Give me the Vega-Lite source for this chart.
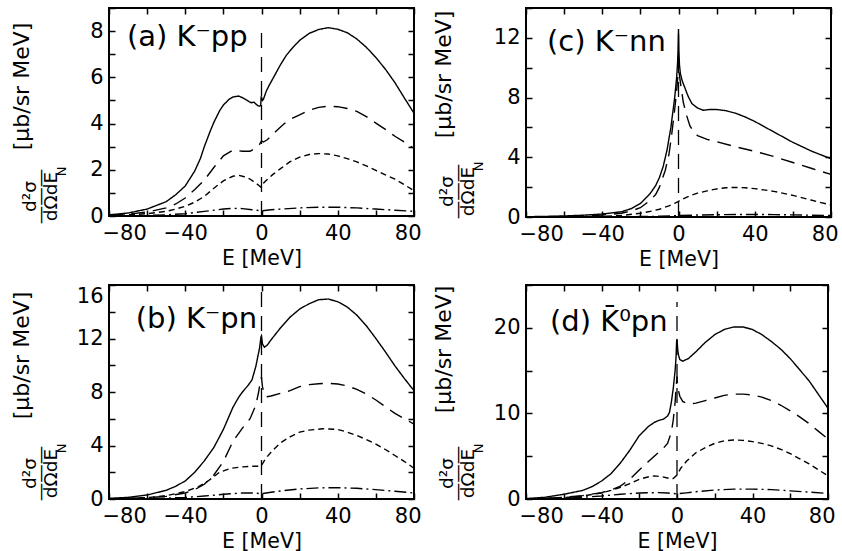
{
"$schema":"https://vega.github.io/schema/vega-lite/v6.json",
"background":"white",
"padding":{"left":9,"top":6,"right":3,"bottom":3},
"config":{"font":"DejaVu Sans","view":{"stroke":"black","strokeWidth":2},
"axis":{"grid":false,"domain":false,"ticks":true,"tickSize":-6,"tickColor":"black","tickWidth":1.5,"labelFont":"DejaVu Sans","labelFontSize":21,"labelColor":"black","titleFont":"DejaVu Sans","titleFontWeight":"normal","titleColor":"black"},
"text":{"font":"DejaVu Sans","color":"black"}},
"datasets":{
"a":[
{"E":-80,"v":0.05,"s":"solid"},{"E":-70,"v":0.13,"s":"solid"},{"E":-60,"v":0.3,"s":"solid"},{"E":-50,"v":0.62,"s":"solid"},{"E":-45,"v":0.92,"s":"solid"},{"E":-40,"v":1.3,"s":"solid"},{"E":-35,"v":1.95,"s":"solid"},{"E":-32,"v":2.5,"s":"solid"},{"E":-30,"v":3.0,"s":"solid"},{"E":-27,"v":3.65,"s":"solid"},{"E":-25,"v":4.05,"s":"solid"},{"E":-22,"v":4.55,"s":"solid"},{"E":-20,"v":4.8,"s":"solid"},{"E":-17,"v":5.05,"s":"solid"},{"E":-15,"v":5.15,"s":"solid"},{"E":-12,"v":5.19,"s":"solid"},{"E":-10,"v":5.12,"s":"solid"},{"E":-8,"v":5.03,"s":"solid"},{"E":-6,"v":4.92,"s":"solid"},{"E":-5,"v":4.9,"s":"solid"},{"E":-4,"v":4.93,"s":"solid"},{"E":-3,"v":4.85,"s":"solid"},{"E":-2,"v":4.78,"s":"solid"},{"E":-1,"v":4.75,"s":"solid"},{"E":-0.4,"v":4.8,"s":"solid"},{"E":-0.2,"v":5.15,"s":"solid"},{"E":0,"v":5.15,"s":"solid"},{"E":0.5,"v":5.0,"s":"solid"},{"E":1,"v":5.05,"s":"solid"},{"E":2.5,"v":5.4,"s":"solid"},{"E":4,"v":5.65,"s":"solid"},{"E":6,"v":5.95,"s":"solid"},{"E":8,"v":6.25,"s":"solid"},{"E":10,"v":6.55,"s":"solid"},{"E":13,"v":6.95,"s":"solid"},{"E":16,"v":7.25,"s":"solid"},{"E":20,"v":7.6,"s":"solid"},{"E":25,"v":7.9,"s":"solid"},{"E":30,"v":8.07,"s":"solid"},{"E":35,"v":8.15,"s":"solid"},{"E":40,"v":8.08,"s":"solid"},{"E":45,"v":7.93,"s":"solid"},{"E":50,"v":7.66,"s":"solid"},{"E":55,"v":7.3,"s":"solid"},{"E":60,"v":6.86,"s":"solid"},{"E":65,"v":6.35,"s":"solid"},{"E":70,"v":5.77,"s":"solid"},{"E":75,"v":5.1,"s":"solid"},{"E":80,"v":4.45,"s":"solid"},
{"E":-80,"v":0.03,"s":"long"},{"E":-70,"v":0.08,"s":"long"},{"E":-60,"v":0.17,"s":"long"},{"E":-50,"v":0.35,"s":"long"},{"E":-45,"v":0.52,"s":"long"},{"E":-40,"v":0.78,"s":"long"},{"E":-35,"v":1.15,"s":"long"},{"E":-30,"v":1.55,"s":"long"},{"E":-25,"v":2.1,"s":"long"},{"E":-20,"v":2.6,"s":"long"},{"E":-15,"v":2.85,"s":"long"},{"E":-10,"v":2.8,"s":"long"},{"E":-6,"v":2.8,"s":"long"},{"E":-3,"v":2.95,"s":"long"},{"E":-1,"v":3.1,"s":"long"},{"E":0,"v":3.25,"s":"long"},{"E":1,"v":3.2,"s":"long"},{"E":3,"v":3.3,"s":"long"},{"E":5,"v":3.45,"s":"long"},{"E":8,"v":3.7,"s":"long"},{"E":12,"v":4.0,"s":"long"},{"E":16,"v":4.22,"s":"long"},{"E":20,"v":4.38,"s":"long"},{"E":25,"v":4.58,"s":"long"},{"E":30,"v":4.7,"s":"long"},{"E":35,"v":4.75,"s":"long"},{"E":40,"v":4.73,"s":"long"},{"E":45,"v":4.65,"s":"long"},{"E":50,"v":4.53,"s":"long"},{"E":55,"v":4.3,"s":"long"},{"E":60,"v":4.02,"s":"long"},{"E":65,"v":3.75,"s":"long"},{"E":70,"v":3.45,"s":"long"},{"E":75,"v":3.2,"s":"long"},{"E":80,"v":2.92,"s":"long"},
{"E":-80,"v":0.02,"s":"short"},{"E":-70,"v":0.05,"s":"short"},{"E":-60,"v":0.1,"s":"short"},{"E":-50,"v":0.2,"s":"short"},{"E":-45,"v":0.3,"s":"short"},{"E":-40,"v":0.42,"s":"short"},{"E":-35,"v":0.6,"s":"short"},{"E":-30,"v":0.85,"s":"short"},{"E":-25,"v":1.2,"s":"short"},{"E":-20,"v":1.52,"s":"short"},{"E":-15,"v":1.72,"s":"short"},{"E":-12,"v":1.76,"s":"short"},{"E":-9,"v":1.7,"s":"short"},{"E":-6,"v":1.6,"s":"short"},{"E":-3,"v":1.42,"s":"short"},{"E":-1,"v":1.3,"s":"short"},{"E":-0.3,"v":1.24,"s":"short"},{"E":0,"v":1.3,"s":"short"},{"E":1,"v":1.42,"s":"short"},{"E":3,"v":1.58,"s":"short"},{"E":6,"v":1.8,"s":"short"},{"E":10,"v":2.05,"s":"short"},{"E":15,"v":2.35,"s":"short"},{"E":20,"v":2.55,"s":"short"},{"E":25,"v":2.66,"s":"short"},{"E":30,"v":2.7,"s":"short"},{"E":35,"v":2.68,"s":"short"},{"E":40,"v":2.6,"s":"short"},{"E":45,"v":2.48,"s":"short"},{"E":50,"v":2.34,"s":"short"},{"E":55,"v":2.17,"s":"short"},{"E":60,"v":1.97,"s":"short"},{"E":65,"v":1.78,"s":"short"},{"E":70,"v":1.6,"s":"short"},{"E":75,"v":1.35,"s":"short"},{"E":80,"v":1.1,"s":"short"},
{"E":-80,"v":0,"s":"dd"},{"E":-70,"v":0.01,"s":"dd"},{"E":-60,"v":0.02,"s":"dd"},{"E":-50,"v":0.05,"s":"dd"},{"E":-40,"v":0.1,"s":"dd"},{"E":-30,"v":0.2,"s":"dd"},{"E":-20,"v":0.3,"s":"dd"},{"E":-15,"v":0.33,"s":"dd"},{"E":-10,"v":0.32,"s":"dd"},{"E":-5,"v":0.27,"s":"dd"},{"E":0,"v":0.22,"s":"dd"},{"E":5,"v":0.27,"s":"dd"},{"E":10,"v":0.3,"s":"dd"},{"E":20,"v":0.35,"s":"dd"},{"E":30,"v":0.38,"s":"dd"},{"E":40,"v":0.38,"s":"dd"},{"E":50,"v":0.35,"s":"dd"},{"E":60,"v":0.3,"s":"dd"},{"E":70,"v":0.25,"s":"dd"},{"E":80,"v":0.2,"s":"dd"}
],
"c":[
{"E":-80,"v":0.02,"s":"solid"},{"E":-70,"v":0.04,"s":"solid"},{"E":-60,"v":0.07,"s":"solid"},{"E":-50,"v":0.12,"s":"solid"},{"E":-40,"v":0.2,"s":"solid"},{"E":-30,"v":0.35,"s":"solid"},{"E":-25,"v":0.55,"s":"solid"},{"E":-20,"v":0.9,"s":"solid"},{"E":-15,"v":1.55,"s":"solid"},{"E":-12,"v":2.1,"s":"solid"},{"E":-10,"v":2.65,"s":"solid"},{"E":-8,"v":3.4,"s":"solid"},{"E":-6,"v":4.5,"s":"solid"},{"E":-4,"v":6.0,"s":"solid"},{"E":-3,"v":7.0,"s":"solid"},{"E":-2,"v":8.0,"s":"solid"},{"E":-1,"v":9.3,"s":"solid"},{"E":-0.5,"v":10.3,"s":"solid"},{"E":-0.15,"v":11.5,"s":"solid"},{"E":0,"v":12.6,"s":"solid"},{"E":0.15,"v":11.4,"s":"solid"},{"E":0.5,"v":10.2,"s":"solid"},{"E":1,"v":9.6,"s":"solid"},{"E":2,"v":9.1,"s":"solid"},{"E":3.5,"v":8.6,"s":"solid"},{"E":5,"v":8.1,"s":"solid"},{"E":7,"v":7.6,"s":"solid"},{"E":10,"v":7.3,"s":"solid"},{"E":13,"v":7.15,"s":"solid"},{"E":16,"v":7.2,"s":"solid"},{"E":20,"v":7.2,"s":"solid"},{"E":25,"v":7.12,"s":"solid"},{"E":30,"v":6.95,"s":"solid"},{"E":35,"v":6.7,"s":"solid"},{"E":40,"v":6.4,"s":"solid"},{"E":50,"v":5.7,"s":"solid"},{"E":60,"v":5.0,"s":"solid"},{"E":70,"v":4.4,"s":"solid"},{"E":80,"v":3.9,"s":"solid"},
{"E":-80,"v":0.01,"s":"long"},{"E":-70,"v":0.02,"s":"long"},{"E":-60,"v":0.04,"s":"long"},{"E":-50,"v":0.07,"s":"long"},{"E":-40,"v":0.13,"s":"long"},{"E":-30,"v":0.25,"s":"long"},{"E":-25,"v":0.4,"s":"long"},{"E":-20,"v":0.62,"s":"long"},{"E":-15,"v":1.1,"s":"long"},{"E":-12,"v":1.5,"s":"long"},{"E":-10,"v":2.0,"s":"long"},{"E":-7,"v":3.1,"s":"long"},{"E":-5,"v":4.2,"s":"long"},{"E":-3.5,"v":5.6,"s":"long"},{"E":-2,"v":7.2,"s":"long"},{"E":-1,"v":8.4,"s":"long"},{"E":-0.3,"v":9.5,"s":"long"},{"E":0.2,"v":9.8,"s":"long"},{"E":1,"v":9.0,"s":"long"},{"E":2.5,"v":7.7,"s":"long"},{"E":4,"v":6.9,"s":"long"},{"E":6,"v":6.1,"s":"long"},{"E":8,"v":5.7,"s":"long"},{"E":10,"v":5.45,"s":"long"},{"E":15,"v":5.2,"s":"long"},{"E":20,"v":5.05,"s":"long"},{"E":30,"v":4.7,"s":"long"},{"E":40,"v":4.4,"s":"long"},{"E":50,"v":4.05,"s":"long"},{"E":60,"v":3.65,"s":"long"},{"E":70,"v":3.25,"s":"long"},{"E":80,"v":2.85,"s":"long"},
{"E":-80,"v":0.0,"s":"short"},{"E":-60,"v":0.01,"s":"short"},{"E":-40,"v":0.05,"s":"short"},{"E":-30,"v":0.1,"s":"short"},{"E":-20,"v":0.25,"s":"short"},{"E":-14,"v":0.4,"s":"short"},{"E":-10,"v":0.52,"s":"short"},{"E":-5,"v":0.75,"s":"short"},{"E":-2,"v":0.92,"s":"short"},{"E":0,"v":1.05,"s":"short"},{"E":3,"v":1.25,"s":"short"},{"E":6,"v":1.42,"s":"short"},{"E":10,"v":1.6,"s":"short"},{"E":15,"v":1.75,"s":"short"},{"E":20,"v":1.88,"s":"short"},{"E":25,"v":1.96,"s":"short"},{"E":30,"v":1.98,"s":"short"},{"E":35,"v":1.96,"s":"short"},{"E":40,"v":1.9,"s":"short"},{"E":50,"v":1.72,"s":"short"},{"E":60,"v":1.45,"s":"short"},{"E":70,"v":1.12,"s":"short"},{"E":80,"v":0.8,"s":"short"},
{"E":-80,"v":0,"s":"dd"},{"E":-60,"v":0.005,"s":"dd"},{"E":-40,"v":0.01,"s":"dd"},{"E":-20,"v":0.03,"s":"dd"},{"E":-10,"v":0.05,"s":"dd"},{"E":0,"v":0.1,"s":"dd"},{"E":10,"v":0.13,"s":"dd"},{"E":20,"v":0.15,"s":"dd"},{"E":30,"v":0.17,"s":"dd"},{"E":40,"v":0.17,"s":"dd"},{"E":50,"v":0.16,"s":"dd"},{"E":60,"v":0.14,"s":"dd"},{"E":70,"v":0.12,"s":"dd"},{"E":80,"v":0.1,"s":"dd"}
],
"b":[
{"E":-80,"v":0.05,"s":"solid"},{"E":-70,"v":0.12,"s":"solid"},{"E":-60,"v":0.3,"s":"solid"},{"E":-50,"v":0.65,"s":"solid"},{"E":-45,"v":0.95,"s":"solid"},{"E":-40,"v":1.35,"s":"solid"},{"E":-35,"v":2.0,"s":"solid"},{"E":-30,"v":2.85,"s":"solid"},{"E":-25,"v":3.85,"s":"solid"},{"E":-20,"v":5.2,"s":"solid"},{"E":-15,"v":6.85,"s":"solid"},{"E":-12,"v":7.6,"s":"solid"},{"E":-10,"v":8.0,"s":"solid"},{"E":-7,"v":8.5,"s":"solid"},{"E":-5,"v":8.9,"s":"solid"},{"E":-3,"v":9.9,"s":"solid"},{"E":-2,"v":10.6,"s":"solid"},{"E":-1,"v":11.3,"s":"solid"},{"E":-0.3,"v":12.1,"s":"solid"},{"E":0,"v":12.2,"s":"solid"},{"E":0.5,"v":11.6,"s":"solid"},{"E":1.5,"v":11.35,"s":"solid"},{"E":3,"v":11.5,"s":"solid"},{"E":5,"v":11.9,"s":"solid"},{"E":10,"v":12.8,"s":"solid"},{"E":15,"v":13.6,"s":"solid"},{"E":20,"v":14.2,"s":"solid"},{"E":25,"v":14.6,"s":"solid"},{"E":30,"v":14.9,"s":"solid"},{"E":35,"v":14.95,"s":"solid"},{"E":40,"v":14.75,"s":"solid"},{"E":45,"v":14.35,"s":"solid"},{"E":50,"v":13.75,"s":"solid"},{"E":55,"v":12.95,"s":"solid"},{"E":60,"v":12.0,"s":"solid"},{"E":65,"v":11.0,"s":"solid"},{"E":70,"v":9.95,"s":"solid"},{"E":75,"v":9.0,"s":"solid"},{"E":80,"v":8.1,"s":"solid"},
{"E":-80,"v":0.02,"s":"long"},{"E":-70,"v":0.05,"s":"long"},{"E":-60,"v":0.1,"s":"long"},{"E":-50,"v":0.2,"s":"long"},{"E":-40,"v":0.45,"s":"long"},{"E":-35,"v":0.7,"s":"long"},{"E":-30,"v":1.1,"s":"long"},{"E":-25,"v":1.8,"s":"long"},{"E":-20,"v":2.8,"s":"long"},{"E":-15,"v":4.3,"s":"long"},{"E":-10,"v":5.3,"s":"long"},{"E":-6,"v":6.0,"s":"long"},{"E":-3,"v":7.0,"s":"long"},{"E":-1.5,"v":8.0,"s":"long"},{"E":-0.5,"v":8.9,"s":"long"},{"E":0,"v":9.1,"s":"long"},{"E":0.5,"v":8.4,"s":"long"},{"E":1.5,"v":7.8,"s":"long"},{"E":3,"v":7.65,"s":"long"},{"E":5,"v":7.7,"s":"long"},{"E":10,"v":7.9,"s":"long"},{"E":15,"v":8.1,"s":"long"},{"E":20,"v":8.4,"s":"long"},{"E":25,"v":8.55,"s":"long"},{"E":30,"v":8.62,"s":"long"},{"E":35,"v":8.65,"s":"long"},{"E":40,"v":8.6,"s":"long"},{"E":45,"v":8.45,"s":"long"},{"E":50,"v":8.2,"s":"long"},{"E":55,"v":7.85,"s":"long"},{"E":60,"v":7.4,"s":"long"},{"E":65,"v":6.9,"s":"long"},{"E":70,"v":6.4,"s":"long"},{"E":75,"v":6.0,"s":"long"},{"E":80,"v":5.6,"s":"long"},
{"E":-80,"v":0.02,"s":"short"},{"E":-70,"v":0.05,"s":"short"},{"E":-60,"v":0.1,"s":"short"},{"E":-50,"v":0.25,"s":"short"},{"E":-40,"v":0.55,"s":"short"},{"E":-33,"v":0.92,"s":"short"},{"E":-28,"v":1.35,"s":"short"},{"E":-22,"v":2.0,"s":"short"},{"E":-16,"v":2.3,"s":"short"},{"E":-10,"v":2.4,"s":"short"},{"E":-5,"v":2.45,"s":"short"},{"E":-1,"v":2.45,"s":"short"},{"E":0,"v":2.5,"s":"short"},{"E":2,"v":3.0,"s":"short"},{"E":5,"v":3.5,"s":"short"},{"E":10,"v":4.2,"s":"short"},{"E":15,"v":4.65,"s":"short"},{"E":20,"v":5.0,"s":"short"},{"E":25,"v":5.15,"s":"short"},{"E":32,"v":5.25,"s":"short"},{"E":40,"v":5.2,"s":"short"},{"E":45,"v":5.0,"s":"short"},{"E":50,"v":4.75,"s":"short"},{"E":55,"v":4.45,"s":"short"},{"E":60,"v":4.1,"s":"short"},{"E":65,"v":3.7,"s":"short"},{"E":70,"v":3.25,"s":"short"},{"E":75,"v":2.8,"s":"short"},{"E":80,"v":2.3,"s":"short"},
{"E":-80,"v":0,"s":"dd"},{"E":-70,"v":0.01,"s":"dd"},{"E":-60,"v":0.03,"s":"dd"},{"E":-50,"v":0.07,"s":"dd"},{"E":-40,"v":0.12,"s":"dd"},{"E":-30,"v":0.22,"s":"dd"},{"E":-20,"v":0.35,"s":"dd"},{"E":-10,"v":0.45,"s":"dd"},{"E":-5,"v":0.45,"s":"dd"},{"E":0,"v":0.4,"s":"dd"},{"E":5,"v":0.5,"s":"dd"},{"E":10,"v":0.6,"s":"dd"},{"E":20,"v":0.75,"s":"dd"},{"E":30,"v":0.83,"s":"dd"},{"E":40,"v":0.85,"s":"dd"},{"E":50,"v":0.8,"s":"dd"},{"E":60,"v":0.7,"s":"dd"},{"E":70,"v":0.58,"s":"dd"},{"E":80,"v":0.45,"s":"dd"}
],
"d":[
{"E":-80,"v":0.05,"s":"solid"},{"E":-70,"v":0.2,"s":"solid"},{"E":-60,"v":0.55,"s":"solid"},{"E":-50,"v":1.0,"s":"solid"},{"E":-45,"v":1.45,"s":"solid"},{"E":-40,"v":2.1,"s":"solid"},{"E":-35,"v":2.95,"s":"solid"},{"E":-30,"v":4.2,"s":"solid"},{"E":-25,"v":5.7,"s":"solid"},{"E":-20,"v":7.4,"s":"solid"},{"E":-15,"v":8.5,"s":"solid"},{"E":-12,"v":8.95,"s":"solid"},{"E":-10,"v":9.15,"s":"solid"},{"E":-7,"v":9.35,"s":"solid"},{"E":-5,"v":9.7,"s":"solid"},{"E":-4,"v":10.1,"s":"solid"},{"E":-3,"v":11.3,"s":"solid"},{"E":-2,"v":12.9,"s":"solid"},{"E":-1,"v":15.0,"s":"solid"},{"E":-0.5,"v":16.6,"s":"solid"},{"E":-0.2,"v":18.4,"s":"solid"},{"E":0,"v":18.7,"s":"solid"},{"E":0.4,"v":17.4,"s":"solid"},{"E":0.8,"v":16.8,"s":"solid"},{"E":1.5,"v":16.3,"s":"solid"},{"E":3,"v":16.1,"s":"solid"},{"E":6,"v":16.4,"s":"solid"},{"E":10,"v":17.2,"s":"solid"},{"E":15,"v":18.3,"s":"solid"},{"E":20,"v":19.2,"s":"solid"},{"E":25,"v":19.8,"s":"solid"},{"E":30,"v":20.1,"s":"solid"},{"E":35,"v":20.1,"s":"solid"},{"E":40,"v":19.8,"s":"solid"},{"E":45,"v":19.2,"s":"solid"},{"E":50,"v":18.4,"s":"solid"},{"E":55,"v":17.5,"s":"solid"},{"E":60,"v":16.4,"s":"solid"},{"E":65,"v":15.1,"s":"solid"},{"E":70,"v":13.8,"s":"solid"},{"E":75,"v":12.2,"s":"solid"},{"E":80,"v":10.6,"s":"solid"},
{"E":-80,"v":0.02,"s":"long"},{"E":-70,"v":0.08,"s":"long"},{"E":-60,"v":0.2,"s":"long"},{"E":-50,"v":0.4,"s":"long"},{"E":-40,"v":0.75,"s":"long"},{"E":-35,"v":1.05,"s":"long"},{"E":-30,"v":1.5,"s":"long"},{"E":-25,"v":2.3,"s":"long"},{"E":-20,"v":3.4,"s":"long"},{"E":-15,"v":4.4,"s":"long"},{"E":-10,"v":5.4,"s":"long"},{"E":-7,"v":6.0,"s":"long"},{"E":-5,"v":6.5,"s":"long"},{"E":-3,"v":7.8,"s":"long"},{"E":-2,"v":9.2,"s":"long"},{"E":-1,"v":11.3,"s":"long"},{"E":-0.3,"v":13.5,"s":"long"},{"E":0,"v":14.3,"s":"long"},{"E":0.4,"v":13.0,"s":"long"},{"E":1.5,"v":12.0,"s":"long"},{"E":3,"v":11.4,"s":"long"},{"E":6,"v":11.1,"s":"long"},{"E":10,"v":11.2,"s":"long"},{"E":15,"v":11.5,"s":"long"},{"E":20,"v":11.8,"s":"long"},{"E":25,"v":12.1,"s":"long"},{"E":30,"v":12.25,"s":"long"},{"E":35,"v":12.25,"s":"long"},{"E":40,"v":12.15,"s":"long"},{"E":45,"v":11.9,"s":"long"},{"E":50,"v":11.5,"s":"long"},{"E":55,"v":10.95,"s":"long"},{"E":60,"v":10.3,"s":"long"},{"E":65,"v":9.6,"s":"long"},{"E":70,"v":8.8,"s":"long"},{"E":75,"v":7.9,"s":"long"},{"E":80,"v":7.0,"s":"long"},
{"E":-80,"v":0.02,"s":"short"},{"E":-70,"v":0.07,"s":"short"},{"E":-60,"v":0.15,"s":"short"},{"E":-50,"v":0.35,"s":"short"},{"E":-40,"v":0.7,"s":"short"},{"E":-35,"v":1.0,"s":"short"},{"E":-30,"v":1.35,"s":"short"},{"E":-25,"v":1.8,"s":"short"},{"E":-20,"v":2.3,"s":"short"},{"E":-15,"v":2.6,"s":"short"},{"E":-12,"v":2.7,"s":"short"},{"E":-8,"v":2.6,"s":"short"},{"E":-4,"v":2.4,"s":"short"},{"E":-2,"v":2.4,"s":"short"},{"E":0,"v":2.8,"s":"short"},{"E":2,"v":3.6,"s":"short"},{"E":5,"v":4.4,"s":"short"},{"E":10,"v":5.4,"s":"short"},{"E":15,"v":6.0,"s":"short"},{"E":20,"v":6.5,"s":"short"},{"E":25,"v":6.8,"s":"short"},{"E":30,"v":6.9,"s":"short"},{"E":35,"v":6.85,"s":"short"},{"E":40,"v":6.7,"s":"short"},{"E":45,"v":6.5,"s":"short"},{"E":50,"v":6.2,"s":"short"},{"E":55,"v":5.8,"s":"short"},{"E":60,"v":5.3,"s":"short"},{"E":65,"v":4.7,"s":"short"},{"E":70,"v":4.1,"s":"short"},{"E":75,"v":3.4,"s":"short"},{"E":80,"v":2.7,"s":"short"},
{"E":-80,"v":0,"s":"dd"},{"E":-70,"v":0.04,"s":"dd"},{"E":-60,"v":0.1,"s":"dd"},{"E":-50,"v":0.2,"s":"dd"},{"E":-40,"v":0.35,"s":"dd"},{"E":-30,"v":0.55,"s":"dd"},{"E":-20,"v":0.7,"s":"dd"},{"E":-10,"v":0.75,"s":"dd"},{"E":-5,"v":0.7,"s":"dd"},{"E":0,"v":0.6,"s":"dd"},{"E":5,"v":0.72,"s":"dd"},{"E":10,"v":0.85,"s":"dd"},{"E":20,"v":1.05,"s":"dd"},{"E":30,"v":1.15,"s":"dd"},{"E":40,"v":1.15,"s":"dd"},{"E":50,"v":1.1,"s":"dd"},{"E":60,"v":0.95,"s":"dd"},{"E":70,"v":0.8,"s":"dd"},{"E":80,"v":0.65,"s":"dd"}
]},
"columns":2,
"spacing":{"row":68,"column":112},
"bounds":"flush",
"concat":[
{"width":305,"height":208,
"layer":[
{"data":{"name":"a"},"mark":{"type":"line","strokeWidth":1.4,"color":"black"},
"encoding":{
"x":{"field":"E","type":"quantitative","scale":{"domain":[-80,80],"nice":false},"axis":{"orient":"bottom","values":[-80,-60,-40,-20,0,20,40,60,80],"labelExpr":"datum.value % 40 == 0 ? datum.label : ''","labelFlush":true,"labelFlushOffset":7,"labelPadding":12,"title":"E [MeV]","titleFontSize":20.5,"titlePadding":5}},
"y":{"field":"v","type":"quantitative","scale":{"domain":[0,9],"nice":false},"axis":{"orient":"left","values":[0,1,2,3,4,5,6,7,8,9],"labelExpr":"datum.value % 2 == 0 ? datum.label : ''","labelPadding":12,"title":"[μb/sr MeV]","titleFontSize":22,"titleAngle":270,"titleAlign":"center","titleBaseline":"alphabetic","titleX":-81,"titleY":78}},
"strokeDash":{"field":"s","type":"nominal","scale":{"domain":["solid","long","short","dd"],"range":[[1,0],[14,8],[6,4],[12,4,2,4]]},"legend":null}}},
{"data":{"values":[{}]},"mark":{"type":"rule","strokeDash":[15,9],"strokeWidth":1.3,"color":"black"},
"encoding":{"x":{"datum":0,"type":"quantitative","axis":null},"y":{"datum":0,"type":"quantitative","axis":null},"y2":{"datum":8}}},
{"data":{"values":[{}]},"mark":{"type":"point","opacity":0},
"encoding":{"x":{"datum":0,"type":"quantitative","axis":{"orient":"top","values":[-80,-60,-40,-20,0,20,40,60,80],"labels":false,"title":null}},"y":{"datum":0,"type":"quantitative","axis":{"orient":"right","values":[0,1,2,3,4,5,6,7,8,9],"labels":false,"title":null}}}},
{"data":{"values":[{}]},"mark":{"type":"point","opacity":0},
"encoding":{"x":{"datum":0,"type":"quantitative","axis":null},"y":{"datum":0,"type":"quantitative","axis":{"orient":"left","labels":false,"ticks":false,"title":["d²σ","———","dΩdE "],"titleFontSize":18.5,"titleLineHeight":10.5,"titleAngle":270,"titleAlign":"center","titleBaseline":"alphabetic","titleX":-74,"titleY":188}}}},
{"data":{"values":[{}]},"mark":{"type":"point","opacity":0},
"encoding":{"x":{"datum":0,"type":"quantitative","axis":null},"y":{"datum":0,"type":"quantitative","axis":{"orient":"left","labels":false,"ticks":false,"title":"N","titleFontSize":13,"titleAngle":270,"titleAlign":"center","titleBaseline":"alphabetic","titleX":-44,"titleY":163}}}},
{"data":{"values":[{}]},"mark":{"type":"text","fontSize":29,"align":"left","baseline":"alphabetic"},
"encoding":{"x":{"datum":-70.6,"type":"quantitative","axis":null},"y":{"datum":7.35,"type":"quantitative","axis":null},"text":{"value":"(a)  K⁻pp"}}}
],
"resolve":{"axis":{"x":"independent","y":"independent"}}},
{"width":305,"height":209,
"layer":[
{"data":{"name":"c"},"mark":{"type":"line","strokeWidth":1.4,"color":"black"},
"encoding":{
"x":{"field":"E","type":"quantitative","scale":{"domain":[-80,80],"nice":false},"axis":{"orient":"bottom","values":[-80,-60,-40,-20,0,20,40,60,80],"labelExpr":"datum.value % 40 == 0 ? datum.label : ''","labelFlush":true,"labelFlushOffset":7,"labelPadding":12,"title":"E [MeV]","titleFontSize":20.5,"titlePadding":5}},
"y":{"field":"v","type":"quantitative","scale":{"domain":[0,14],"nice":false},"axis":{"orient":"left","values":[0,2,4,6,8,10,12,14],"labelExpr":"datum.value % 4 == 0 ? datum.label : ''","labelPadding":12,"title":"[μb/sr MeV]","titleFontSize":22,"titleAngle":270,"titleAlign":"center","titleBaseline":"alphabetic","titleX":-76,"titleY":66}},
"strokeDash":{"field":"s","type":"nominal","scale":{"domain":["solid","long","short","dd"],"range":[[1,0],[14,8],[6,4],[12,4,2,4]]},"legend":null}}},
{"data":{"values":[{}]},"mark":{"type":"rule","strokeDash":[15,9],"strokeWidth":1.3,"color":"black"},
"encoding":{"x":{"datum":0,"type":"quantitative","axis":null},"y":{"datum":0,"type":"quantitative","axis":null},"y2":{"datum":12.6}}},
{"data":{"values":[{}]},"mark":{"type":"point","opacity":0},
"encoding":{"x":{"datum":0,"type":"quantitative","axis":{"orient":"top","values":[-80,-60,-40,-20,0,20,40,60,80],"labels":false,"title":null}},"y":{"datum":0,"type":"quantitative","axis":{"orient":"right","values":[0,2,4,6,8,10,12,14],"labels":false,"title":null}}}},
{"data":{"values":[{}]},"mark":{"type":"point","opacity":0},
"encoding":{"x":{"datum":0,"type":"quantitative","axis":null},"y":{"datum":0,"type":"quantitative","axis":{"orient":"left","labels":false,"ticks":false,"title":["d²σ","———","dΩdE "],"titleFontSize":18.5,"titleLineHeight":10.5,"titleAngle":270,"titleAlign":"center","titleBaseline":"alphabetic","titleX":-74,"titleY":183}}}},
{"data":{"values":[{}]},"mark":{"type":"point","opacity":0},
"encoding":{"x":{"datum":0,"type":"quantitative","axis":null},"y":{"datum":0,"type":"quantitative","axis":{"orient":"left","labels":false,"ticks":false,"title":"N","titleFontSize":13,"titleAngle":270,"titleAlign":"center","titleBaseline":"alphabetic","titleX":-44,"titleY":158}}}},
{"data":{"values":[{}]},"mark":{"type":"text","fontSize":29,"align":"left","baseline":"alphabetic"},
"encoding":{"x":{"datum":-69,"type":"quantitative","axis":null},"y":{"datum":11.15,"type":"quantitative","axis":null},"text":{"value":"(c) K⁻nn"}}}
],
"resolve":{"axis":{"x":"independent","y":"independent"}}},
{"width":305,"height":214,
"layer":[
{"data":{"name":"b"},"mark":{"type":"line","strokeWidth":1.4,"color":"black"},
"encoding":{
"x":{"field":"E","type":"quantitative","scale":{"domain":[-80,80],"nice":false},"axis":{"orient":"bottom","values":[-80,-60,-40,-20,0,20,40,60,80],"labelExpr":"datum.value % 40 == 0 ? datum.label : ''","labelFlush":true,"labelFlushOffset":7,"labelPadding":12,"title":"E [MeV]","titleFontSize":20.5,"titlePadding":5}},
"y":{"field":"v","type":"quantitative","scale":{"domain":[0,16],"nice":false},"axis":{"orient":"left","values":[0,2,4,6,8,10,12,14,16],"labelExpr":"datum.value % 4 == 0 ? datum.label : ''","labelBaseline":{"condition":{"test":"datum.value == 16","value":"top"},"value":"middle"},"labelPadding":12,"title":"[μb/sr MeV]","titleFontSize":22,"titleAngle":270,"titleAlign":"center","titleBaseline":"alphabetic","titleX":-81,"titleY":70}},
"strokeDash":{"field":"s","type":"nominal","scale":{"domain":["solid","long","short","dd"],"range":[[1,0],[14,8],[6,4],[12,4,2,4]]},"legend":null}}},
{"data":{"values":[{}]},"mark":{"type":"rule","strokeDash":[15,9],"strokeWidth":1.3,"color":"black"},
"encoding":{"x":{"datum":0,"type":"quantitative","axis":null},"y":{"datum":0,"type":"quantitative","axis":null},"y2":{"datum":15.6}}},
{"data":{"values":[{}]},"mark":{"type":"point","opacity":0},
"encoding":{"x":{"datum":0,"type":"quantitative","axis":{"orient":"top","values":[-80,-60,-40,-20,0,20,40,60,80],"labels":false,"title":null}},"y":{"datum":0,"type":"quantitative","axis":{"orient":"right","values":[0,2,4,6,8,10,12,14,16],"labels":false,"title":null}}}},
{"data":{"values":[{}]},"mark":{"type":"point","opacity":0},
"encoding":{"x":{"datum":0,"type":"quantitative","axis":null},"y":{"datum":0,"type":"quantitative","axis":{"orient":"left","labels":false,"ticks":false,"title":["d²σ","———","dΩdE "],"titleFontSize":18.5,"titleLineHeight":10.5,"titleAngle":270,"titleAlign":"center","titleBaseline":"alphabetic","titleX":-74,"titleY":188}}}},
{"data":{"values":[{}]},"mark":{"type":"point","opacity":0},
"encoding":{"x":{"datum":0,"type":"quantitative","axis":null},"y":{"datum":0,"type":"quantitative","axis":{"orient":"left","labels":false,"ticks":false,"title":"N","titleFontSize":13,"titleAngle":270,"titleAlign":"center","titleBaseline":"alphabetic","titleX":-44,"titleY":163}}}},
{"data":{"values":[{}]},"mark":{"type":"text","fontSize":29,"align":"left","baseline":"alphabetic"},
"encoding":{"x":{"datum":-66,"type":"quantitative","axis":null},"y":{"datum":12.8,"type":"quantitative","axis":null},"text":{"value":"(b) K⁻pn"}}}
],
"resolve":{"axis":{"x":"independent","y":"independent"}}},
{"width":302,"height":214,
"layer":[
{"data":{"name":"d"},"mark":{"type":"line","strokeWidth":1.4,"color":"black"},
"encoding":{
"x":{"field":"E","type":"quantitative","scale":{"domain":[-80,80],"nice":false},"axis":{"orient":"bottom","values":[-80,-60,-40,-20,0,20,40,60,80],"labelExpr":"datum.value % 40 == 0 ? datum.label : ''","labelFlush":true,"labelFlushOffset":7,"labelPadding":12,"title":"E [MeV]","titleFontSize":20.5,"titlePadding":5}},
"y":{"field":"v","type":"quantitative","scale":{"domain":[0,25],"nice":false},"axis":{"orient":"left","values":[0,5,10,15,20,25],"labelExpr":"datum.value % 10 == 0 ? datum.label : ''","labelPadding":12,"title":"[μb/sr MeV]","titleFontSize":22,"titleAngle":270,"titleAlign":"center","titleBaseline":"alphabetic","titleX":-76,"titleY":64}},
"strokeDash":{"field":"s","type":"nominal","scale":{"domain":["solid","long","short","dd"],"range":[[1,0],[14,8],[6,4],[12,4,2,4]]},"legend":null}}},
{"data":{"values":[{}]},"mark":{"type":"rule","strokeDash":[15,9],"strokeWidth":1.3,"color":"black"},
"encoding":{"x":{"datum":0,"type":"quantitative","axis":null},"y":{"datum":0,"type":"quantitative","axis":null},"y2":{"datum":23}}},
{"data":{"values":[{}]},"mark":{"type":"point","opacity":0},
"encoding":{"x":{"datum":0,"type":"quantitative","axis":{"orient":"top","values":[-80,-60,-40,-20,0,20,40,60,80],"labels":false,"title":null}},"y":{"datum":0,"type":"quantitative","axis":{"orient":"right","values":[0,5,10,15,20,25],"labels":false,"title":null}}}},
{"data":{"values":[{}]},"mark":{"type":"point","opacity":0},
"encoding":{"x":{"datum":0,"type":"quantitative","axis":null},"y":{"datum":0,"type":"quantitative","axis":{"orient":"left","labels":false,"ticks":false,"title":["d²σ","———","dΩdE "],"titleFontSize":18.5,"titleLineHeight":10.5,"titleAngle":270,"titleAlign":"center","titleBaseline":"alphabetic","titleX":-74,"titleY":188}}}},
{"data":{"values":[{}]},"mark":{"type":"point","opacity":0},
"encoding":{"x":{"datum":0,"type":"quantitative","axis":null},"y":{"datum":0,"type":"quantitative","axis":{"orient":"left","labels":false,"ticks":false,"title":"N","titleFontSize":13,"titleAngle":270,"titleAlign":"center","titleBaseline":"alphabetic","titleX":-44,"titleY":163}}}},
{"data":{"values":[{}]},"mark":{"type":"text","fontSize":29,"align":"left","baseline":"alphabetic"},
"encoding":{"x":{"datum":-67.3,"type":"quantitative","axis":null},"y":{"datum":19.6,"type":"quantitative","axis":null},"text":{"value":"(d) K̄⁰pn"}}}
],
"resolve":{"axis":{"x":"independent","y":"independent"}}}
]
}
